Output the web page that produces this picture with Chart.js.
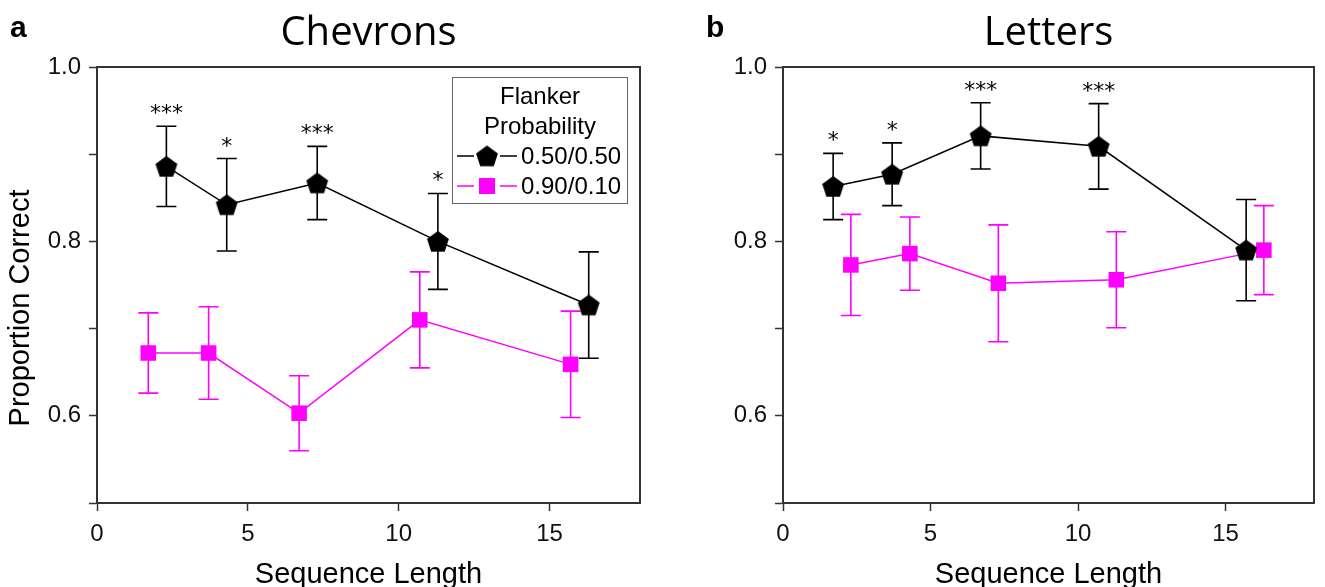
<!DOCTYPE html>
<html>
<head>
<meta charset="utf-8">
<script src="https://cdn.jsdelivr.net/npm/chart.js@4"></script>
<style>
  body { margin: 0; background: #fff; }
  #wrap { position: relative; width: 1325px; height: 587px; }
  .panel { position: absolute; top: 0; height: 587px; }
</style>
</head>
<body>
<div id="wrap">
  <div class="panel" style="left:0;width:662px"><canvas id="chartA"></canvas></div>
  <div class="panel" style="left:662px;width:663px"><canvas id="chartB"></canvas></div>
</div>
<script>
// sequence lengths tested
const seqLength = [2, 4, 7, 11, 16];

// Chevrons
const chev50 = [0.886, 0.842, 0.867, 0.800, 0.727];
const chev50Err = [0.046, 0.053, 0.042, 0.055, 0.061];
const chev90 = [0.672, 0.672, 0.603, 0.710, 0.659];
const chev90Err = [0.046, 0.053, 0.043, 0.055, 0.061];
const chevStars = ['***', '*', '***', '*', ''];

// Letters
const lett50 = [0.863, 0.877, 0.921, 0.909, 0.790];
const lett50Err = [0.038, 0.036, 0.038, 0.049, 0.058];
const lett90 = [0.773, 0.786, 0.752, 0.756, 0.790];
const lett90Err = [0.058, 0.042, 0.067, 0.055, 0.051];
const lettStars = ['*', '*', '***', '***', ''];

const legendTitle = ['Flanker', 'Probability'];
const seriesLabels = ['0.50/0.50', '0.90/0.10'];

const BLACK = '#000000';
const MAGENTA = '#ff00ff';
const AXIS = '#333333';
const SANS = 'Liberation Sans';

function pentagon(r, color) {
  const c = document.createElement('canvas');
  const w = Math.ceil(2 * r * Math.sin(2 * Math.PI / 5)) + 2;
  const h = Math.ceil(r * (1 + Math.cos(Math.PI / 5))) + 2;
  c.width = w; c.height = h;
  const g = c.getContext('2d');
  g.fillStyle = color;
  g.beginPath();
  for (let k = 0; k < 5; k++) {
    const a = -Math.PI / 2 + k * 2 * Math.PI / 5;
    g.lineTo(w / 2 + r * Math.cos(a), 1 + r + r * Math.sin(a));
  }
  g.closePath();
  g.fill();
  return c;
}
const penta = pentagon(11.5, BLACK);

function points(vals, shift) {
  return seqLength.map((x, i) => ({ x: x + shift, y: vals[i] }));
}

function series(label, vals, err, stars, shift, color, style) {
  return {
    label: label,
    data: points(vals, shift),
    errors: err,
    stars: stars,
    borderColor: color,
    backgroundColor: color,
    borderWidth: 1.5,
    pointStyle: style,
    pointRadius: 11,
    pointBorderWidth: 0,
    pointBackgroundColor: color,
    tension: 0
  };
}

// error bars + significance stars, drawn under the markers
const errorBars = {
  id: 'errorBars',
  beforeDatasetsDraw(chart) {
    const ctx = chart.ctx;
    const ys = chart.scales.y;
    chart.data.datasets.forEach((ds, di) => {
      const meta = chart.getDatasetMeta(di);
      ctx.save();
      ctx.strokeStyle = ds.borderColor;
      ctx.lineWidth = 1.6;
      meta.data.forEach((pt, i) => {
        const v = ds.data[i].y, e = ds.errors[i];
        const top = ys.getPixelForValue(v + e), bot = ys.getPixelForValue(v - e);
        ctx.beginPath();
        ctx.moveTo(pt.x, top); ctx.lineTo(pt.x, bot);
        ctx.moveTo(pt.x - 10, top); ctx.lineTo(pt.x + 10, top);
        ctx.moveTo(pt.x - 10, bot); ctx.lineTo(pt.x + 10, bot);
        ctx.stroke();
        if (ds.stars && ds.stars[i]) {
          ctx.fillStyle = '#000';
          ctx.font = '22px "DejaVu Sans"';
          ctx.textAlign = 'center';
          ctx.textBaseline = 'alphabetic';
          ctx.fillText(ds.stars[i], pt.x, top - 6);
        }
      });
      ctx.restore();
    });
  }
};

// frame, panel letter, y title and legend box
const decor = {
  id: 'decor',
  afterDraw(chart, args, opts) {
    const ctx = chart.ctx;
    const a = chart.chartArea;
    ctx.save();
    ctx.strokeStyle = AXIS;
    ctx.lineWidth = 2;
    ctx.beginPath();
    ctx.moveTo(a.left, a.top); ctx.lineTo(a.right, a.top); ctx.lineTo(a.right, a.bottom);
    ctx.stroke();

    ctx.fillStyle = '#000';
    ctx.font = 'bold 30px "' + SANS + '"';
    ctx.textAlign = 'left';
    ctx.textBaseline = 'alphabetic';
    ctx.fillText(opts.letter, opts.letterX, 37);

    if (opts.yTitle) {
      ctx.save();
      ctx.translate(29, a.top + 241);
      ctx.rotate(-Math.PI / 2);
      ctx.font = '29px "' + SANS + '"';
      ctx.textAlign = 'center';
      ctx.textBaseline = 'alphabetic';
      ctx.fillText(opts.yTitle, 0, 0);
      ctx.restore();
    }

    if (opts.legend) {
      const bx = a.right - 188, by = a.top + 10;
      ctx.strokeStyle = '#666';
      ctx.lineWidth = 1;
      ctx.strokeRect(bx + 0.5, by + 0.5, 175, 126);
      ctx.font = '24px "' + SANS + '"';
      ctx.textAlign = 'center';
      ctx.textBaseline = 'middle';
      ctx.fillStyle = '#000';
      ctx.fillText(legendTitle[0], bx + 88, by + 20);
      ctx.fillText(legendTitle[1], bx + 88, by + 50);
      chart.data.datasets.forEach((ds, i) => {
        const y = by + 79 + i * 30;
        ctx.strokeStyle = ds.borderColor;
        ctx.lineWidth = 1.5;
        ctx.beginPath();
        ctx.moveTo(bx + 5, y); ctx.lineTo(bx + 22, y);
        ctx.moveTo(bx + 48, y); ctx.lineTo(bx + 65, y);
        ctx.stroke();
        if (ds.pointStyle === 'rect') {
          ctx.fillStyle = ds.borderColor;
          ctx.fillRect(bx + 35 - 8, y - 8, 16, 16);
        } else {
          ctx.drawImage(ds.pointStyle, bx + 35 - ds.pointStyle.width / 2, y - ds.pointStyle.height / 2);
        }
        ctx.fillStyle = '#000';
        ctx.textAlign = 'left';
        ctx.fillText(ds.label, bx + 69, y + 1);
      });
    }
    ctx.restore();
  }
};

function makeConfig(title, datasets, yWidth, rightPad, decorOpts) {
  return {
    type: 'line',
    data: { datasets: datasets },
    plugins: [errorBars, decor],
    options: {
      responsive: true,
      maintainAspectRatio: false,
      animation: false,
      events: [],
      layout: { padding: { left: 0, right: rightPad, top: 0, bottom: 0 } },
      plugins: {
        legend: { display: false },
        tooltip: { enabled: false },
        title: {
          display: true,
          text: title,
          fullSize: false,
          color: '#000',
          font: { family: 'Open Sans', size: 40, weight: 'normal', lineHeight: 1 },
          padding: { top: 14, bottom: 13 }
        },
        decor: decorOpts
      },
      scales: {
        x: {
          type: 'linear',
          min: 0,
          max: 18,
          ticks: {
            stepSize: 5,
            includeBounds: false,
            color: '#111',
            padding: 9,
            font: { family: SANS, size: 24 }
          },
          grid: { drawOnChartArea: false, tickLength: 8, tickColor: AXIS, tickWidth: 1.5 },
          border: { color: AXIS, width: 2 },
          title: {
            display: true,
            text: 'Sequence Length',
            color: '#000',
            font: { family: SANS, size: 29, lineHeight: 0.8 },
            padding: { top: 0, bottom: 0 }
          },
          afterFit: (s) => { s.height = 84; }
        },
        y: {
          type: 'linear',
          min: 0.5,
          max: 1.0,
          ticks: {
            stepSize: 0.1,
            color: '#111',
            padding: 8,
            font: { family: SANS, size: 24 },
            callback: (v) => (Math.round(v * 10) % 2 === 0 && v > 0.55) ? v.toFixed(1) : ''
          },
          grid: { drawOnChartArea: false, tickLength: 8, tickColor: AXIS, tickWidth: 1.5 },
          border: { color: AXIS, width: 2 },
          afterFit: (s) => { s.width = yWidth; }
        }
      }
    }
  };
}

const chartA = new Chart(document.getElementById('chartA'), makeConfig('Chevrons', [
  series(seriesLabels[0], chev50, chev50Err, chevStars, 0.3, BLACK, penta),
  series(seriesLabels[1], chev90, chev90Err, null, -0.3, MAGENTA, 'rect')
], 97, 22, { letter: 'a', letterX: 10, yTitle: 'Proportion Correct', legend: true }));

const chartB = new Chart(document.getElementById('chartB'), makeConfig('Letters', [
  series(seriesLabels[0], lett50, lett50Err, lettStars, -0.3, BLACK, penta),
  series(seriesLabels[1], lett90, lett90Err, null, 0.3, MAGENTA, 'rect')
], 121, 4, { letter: 'b', letterX: 44, yTitle: null, legend: false }));
</script>
</body>
</html>
